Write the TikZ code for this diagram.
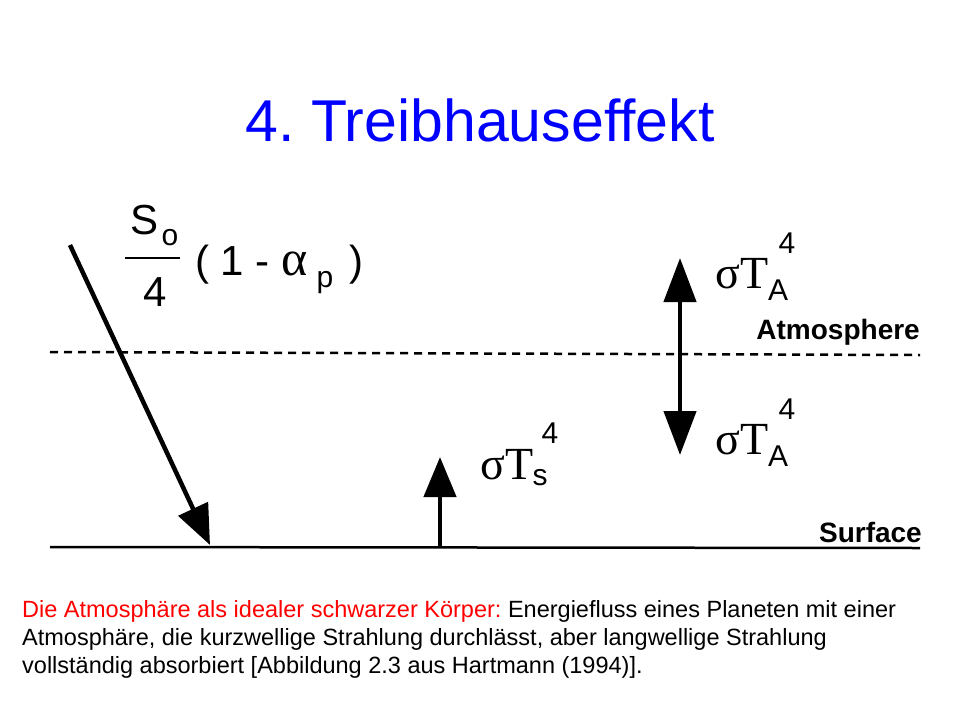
\documentclass[tikz,border=0pt]{standalone}
\usepackage{fontspec}
\setmainfont{Liberation Sans}
\newfontfamily\serifT{Liberation Serif}
\frenchspacing
\usetikzlibrary{arrows.meta}
\tikzset{
  flux/.style={line width=4.5pt,-{Triangle[length=40pt,width=32pt]}},
  fluxboth/.style={line width=4.5pt,{Triangle[length=44pt,width=32pt]}-{Triangle[length=44pt,width=32pt]}},
  formel/.style={font=\fontsize{42}{46}\selectfont,inner sep=0pt},
  index/.style={font=\fontsize{30}{32}\selectfont,inner sep=0pt},
  schicht/.style={font=\bfseries\fontsize{28}{30}\selectfont,inner sep=0pt},
}
\begin{document}
\begin{tikzpicture}[x=1pt,y=-1pt]
\useasboundingbox (0,0) rectangle (960,720);
%Titel
\node[text=blue,font=\fontsize{59}{64}\selectfont] (titel) at (480,120) {4. Treibhauseffekt};
%Schichten
\coordinate (atmL) at (50,352);
\coordinate (atmR) at (920,355);
\coordinate (surfL) at (50,547);
\coordinate (surfR) at (920,548);
\draw[line width=2.5pt,dash pattern=on 8pt off 6pt] (atmL) -- (atmR);
\draw[line width=2.5pt] (surfL) -- (surfR);
\node[schicht,anchor=south east] (atmtxt) at (920,346) {Atmosphere};
\node[schicht,anchor=south east] (surftxt) at (922,543) {Surface};
%Einstrahlung
\coordinate (sonneA) at (70,245);
\coordinate (sonneE) at (210,545);
\draw[flux] (sonneA) -- (sonneE);
\node[formel] (s0) at (145,220) {S};
\node[index] (s0idx) at (170,238) {o};
\draw[line width=1.5pt] (125,258) -- (180,258);
\node[formel] (vier) at (155,292) {4};
\node[formel,anchor=west] (albedo) at (195,265) {( 1 - {\serifT\fontsize{50}{50}\selectfont α}\phantom{p}\, )};
\node[index] (pidx) at (325,283) {p};
%Ausstrahlung Oberflaeche
\coordinate (bodenA) at (440,547);
\coordinate (bodenE) at (440,457);
\draw[flux] (bodenA) -- (bodenE);
\node[formel,font=\serifT\fontsize{46}{50}\selectfont] (sigmaTs) at (507,465) {σT};
\node[index] (sidx) at (540,478) {s};
\node[index] (sexp) at (550,433) {4};
%Ausstrahlung Atmosphaere
\coordinate (atmO) at (680,258);
\coordinate (atmU) at (680,455);
\draw[fluxboth] (atmO) -- (atmU);
\node[formel,font=\serifT\fontsize{46}{50}\selectfont] (sigmaTAo) at (742,274) {σT};
\node[index] (Aoidx) at (778,290) {A};
\node[index] (Aoexp) at (787,243) {4};
\node[formel,font=\serifT\fontsize{46}{50}\selectfont] (sigmaTAu) at (742,440) {σT};
\node[index] (Auidx) at (778,456) {A};
\node[index] (Auexp) at (787,409) {4};
%Bildunterschrift
\node[anchor=north west,align=left,font=\fontsize{23.5}{28}\selectfont,inner sep=0pt] (caption) at (22,600)
{\textcolor{red}{Die Atmosphäre als idealer schwarzer Körper:} Energiefluss eines Planeten mit einer\\ Atmosphäre, die kurzwellige Strahlung durchlässt, aber langwellige Strahlung\\ vollständig absorbiert [Abbildung 2.3 aus Hartmann (1994)].};
\end{tikzpicture}
\end{document}
